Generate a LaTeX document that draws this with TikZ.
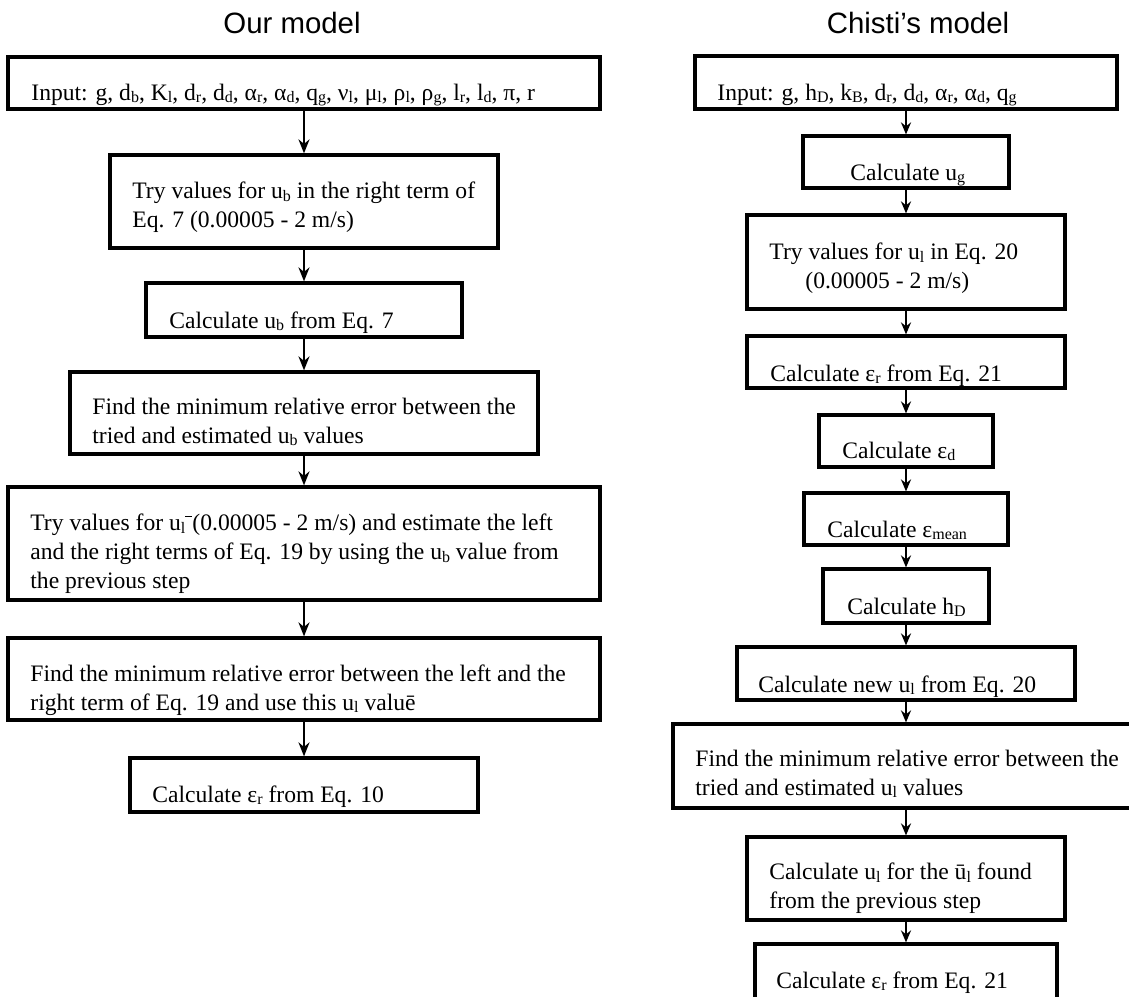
\documentclass[tikz,border=0pt]{standalone}
\usepackage{fontspec}
\setmainfont{Liberation Serif}
\setsansfont{Liberation Sans}
\usepackage{tikz}
\usetikzlibrary{
    calc,
    arrows.meta,
    fit % boxes spanned between two corners
}
\newcommand{\lo}[1]{\raisebox{-0.25ex}{\fontsize{8}{8}\selectfont #1}}
\newcommand{\barmark}{\raisebox{1.3ex}{\rule{0.3em}{0.6pt}}}

\begin{document}
\begin{tikzpicture}[
        x=0.5pt, y=-0.5pt,
        step box/.style={draw=black, line width=1.6pt, inner sep=0pt, rectangle},
        box text/.style={anchor=base west, inner sep=0pt, align=left, font=\fontsize{11.8}{14.3}\selectfont},
        title/.style={anchor=base, inner sep=0pt, font=\sffamily\fontsize{14.7}{17}\selectfont},
        flow/.style={-{Stealth[length=7pt, width=5.5pt]}, line width=1.3pt},
        thin flow/.style={-{Stealth[length=6pt, width=5pt]}, line width=1.1pt}
    ]
    \useasboundingbox (0,0) rectangle (1129,996);

    % Our model
    \node[title] (ourtitle) at (292,33) {Our model};
    \node[step box, fit={(8,57) (600,109)}] (o1) {};
    \node[step box, fit={(110,155) (498,248)}] (o2) {};
    \node[step box, fit={(146,283) (462,337)}] (o3) {};
    \node[step box, fit={(70,372) (538,454)}] (o4) {};
    \node[step box, fit={(8,487) (600,600)}] (o5) {};
    \node[step box, fit={(8,638) (600,720)}] (o6) {};
    \node[step box, fit={(130,758) (478,812)}] (o7) {};

    % multi-line texts sit on their last baseline
    \node[box text] (o1t) at (31,100) {Input: g, d\lo{b}, K\lo{l}, d\lo{r}, d\lo{d}, α\lo{r}, α\lo{d}, q\lo{g}, ν\lo{l}, μ\lo{l}, ρ\lo{l}, ρ\lo{g}, l\lo{r}, l\lo{d}, π, r};
    \node[box text] (o2t) at (132,227) {Try values for u\lo{b} in the right term of\\Eq. 7 (0.00005 - 2 m/s)};
    \node[box text] (o3t) at (169,328) {Calculate u\lo{b} from Eq. 7};
    \node[box text] (o4t) at (92,443) {Find the minimum relative error between the\\tried and estimated u\lo{b} values};
    \node[box text] (o5t) at (30,588) {Try values for u\lo{l}\barmark(0.00005 - 2 m/s) and estimate the left\\and the right terms of Eq. 19 by using the u\lo{b} value from\\the previous step};
    \node[box text] (o6t) at (30,710) {Find the minimum relative error between the left and the\\right term of Eq. 19 and use this u\lo{l} valuē};
    \node[box text] (o7t) at (152,802) {Calculate ε\lo{r} from Eq. 10};

    \draw[flow] (o1) -- (o2);
    \draw[flow] (o2) -- (o3);
    \draw[flow] (o3) -- (o4);
    \draw[flow] (o4) -- (o5);
    \draw[flow] (o5) -- (o6);
    \draw[flow] (o6) -- (o7);

    % Chisti's model
    \node[title] (chtitle) at (918,33) {Chisti’s model};
    \node[step box, fit={(695,56) (1117,109)}] (c1) {};
    \node[step box, fit={(803,136) (1009,188)}] (c2) {};
    \node[step box, fit={(747,215) (1065,309)}] (c3) {};
    \node[step box, fit={(747,336) (1065,388)}] (c4) {};
    \node[step box, fit={(819,415) (993,467)}] (c5) {};
    \node[step box, fit={(804,493) (1008,545)}] (c6) {};
    \node[step box, fit={(823,569) (989,623)}] (c7) {};
    \node[step box, fit={(737,647) (1075,700)}] (c8) {};
    \node[step box, fit={(673,724) (1139,808)}] (c9) {};
    \node[step box, fit={(747,837) (1065,920)}] (c10) {};
    \node[step box, fit={(755,944) (1057,1010)}] (c11) {};

    \node[box text] (c1t) at (717,100) {Input: g, h\lo{D}, k\lo{B}, d\lo{r}, d\lo{d}, α\lo{r}, α\lo{d}, q\lo{g}};
    \node[box text] (c2t) at (850,180) {Calculate u\lo{g}};
    \node[box text] (c3t) at (769,288) {Try values for u\lo{l} in Eq. 20\\\hspace*{18pt}(0.00005 - 2 m/s)};
    \node[box text] (c4t) at (770,381) {Calculate ε\lo{r} from Eq. 21};
    \node[box text] (c5t) at (842,458) {Calculate ε\lo{d}};
    \node[box text] (c6t) at (827,537) {Calculate ε\lo{mean}};
    \node[box text] (c7t) at (847,614) {Calculate h\lo{D}};
    \node[box text] (c8t) at (758,692) {Calculate new u\lo{l} from Eq. 20};
    \node[box text] (c9t) at (695,795) {Find the minimum relative error between the\\tried and estimated u\lo{l} values};
    \node[box text] (c10t) at (769,908) {Calculate u\lo{l} for the ū\lo{l} found\\from the previous step};
    \node[box text] (c11t) at (776,988) {Calculate ε\lo{r} from Eq. 21};

    \draw[thin flow] (c1) -- (c2);
    \draw[thin flow] (c2) -- (c3);
    \draw[thin flow] (c3) -- (c4);
    \draw[thin flow] (c4) -- (c5);
    \draw[thin flow] (c5) -- (c6);
    \draw[thin flow] (c6) -- (c7);
    \draw[thin flow] (c7) -- (c8);
    \draw[thin flow] (c8) -- (c9);
    \draw[thin flow] (c9) -- (c10);
    \draw[thin flow] (c10) -- (c11);
\end{tikzpicture}
\end{document}
